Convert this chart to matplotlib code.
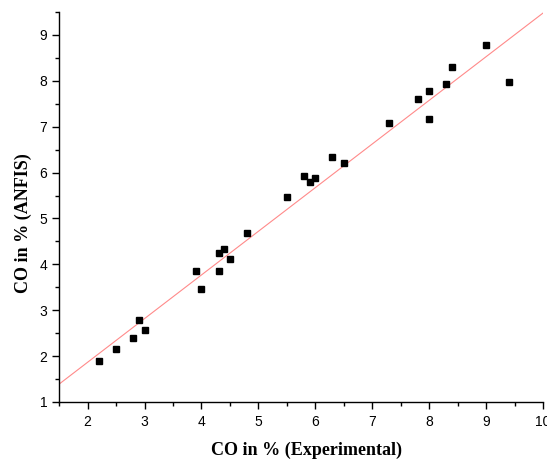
import numpy as np
import matplotlib.pyplot as plt
from matplotlib.ticker import MultipleLocator

# measured CO (%) vs ANFIS prediction
co_experimental = [2.2, 2.5, 2.8, 2.9, 3.0, 3.9, 4.0, 4.3, 4.3, 4.4, 4.5, 4.8, 5.5,
                   5.8, 5.9, 6.0, 6.3, 6.5, 7.3, 7.8, 8.0, 8.0, 8.3, 8.4, 9.0, 9.4]
co_anfis = [1.9, 2.15, 2.4, 2.78, 2.56, 3.85, 3.46, 3.85, 4.25, 4.33, 4.12, 4.68, 5.47,
            5.93, 5.8, 5.89, 6.34, 6.2, 7.07, 7.6, 7.77, 7.17, 7.93, 8.3, 8.78, 7.98]

# fitted line
fit_slope = 0.952
fit_intercept = -0.04

fig = plt.figure(figsize=(5.47, 4.62), dpi=100)
ax = fig.add_axes([0.108, 0.130, 0.885, 0.844])

ax.set_xlim(1.5, 10)
ax.set_ylim(1, 9.5)

xs = np.array(ax.get_xlim())
ax.plot(xs, fit_slope * xs + fit_intercept, color='#ff8a8a', linewidth=0.8, zorder=1)
ax.plot(co_experimental, co_anfis, 's', color='black', markersize=5, zorder=2)

for side in ['top', 'right']:
    ax.spines[side].set_visible(False)
for side in ['left', 'bottom']:
    ax.spines[side].set_linewidth(1.0)

ax.xaxis.set_major_locator(MultipleLocator(1))
ax.xaxis.set_minor_locator(MultipleLocator(0.5))
ax.yaxis.set_major_locator(MultipleLocator(1))
ax.yaxis.set_minor_locator(MultipleLocator(0.5))
ax.tick_params(which='major', direction='out', length=5, width=1, labelsize=10)
ax.tick_params(axis='x', which='major', pad=4.5)
ax.tick_params(which='minor', direction='out', length=3, width=1)
for lbl in ax.get_xticklabels() + ax.get_yticklabels():
    lbl.set_family('Liberation Sans')

ax.set_xlabel("CO in % (Experimental)", fontsize=13, fontweight='bold',
              family='Liberation Serif')
ax.set_ylabel("CO in % (ANFIS)", fontsize=13, fontweight='bold',
              family='Liberation Serif')
ax.xaxis.set_label_coords(0.511, -0.103)
ax.yaxis.set_label_coords(-0.055, 0.459)

plt.savefig('out.png', dpi=100)
